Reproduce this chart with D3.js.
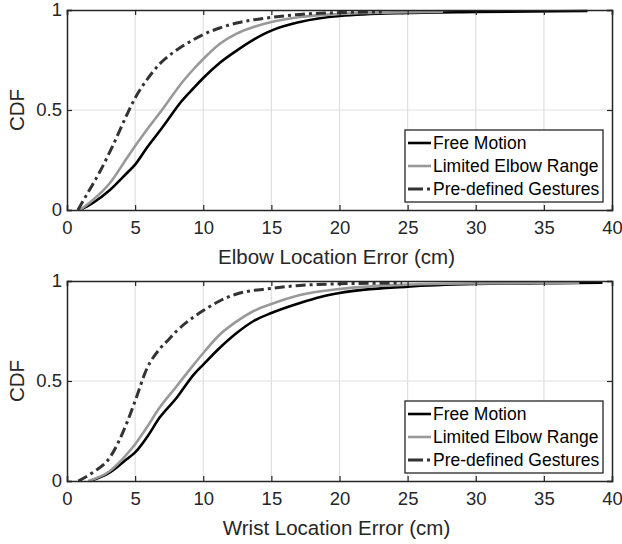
<!DOCTYPE html>
<html>
<head>
<meta charset="utf-8">
<script src="https://cdn.jsdelivr.net/npm/d3@7"></script>
<style>
  body { margin: 0; background: #fff; }
  svg { font-family: "Liberation Sans", Arial, sans-serif; }
</style>
</head>
<body>
<div id="chart"></div>
<script>
// series names + ticks
var seriesNames = ["Free Motion", "Limited Elbow Range", "Pre-defined Gestures"];
var xTicks = [0, 5, 10, 15, 20, 25, 30, 35, 40];
var yTicks = [0, 0.5, 1];
var yTickLabels = ["0", "0.5", "1"];

// elbow panel
var elbowFreeX = [0.95, 1.9, 3.15, 4.4, 5, 5.85, 6.8, 7.55, 8.3, 9.3, 10, 11.2, 12.45, 13.7, 14.4, 15, 17.1, 20, 25, 30, 38.2];
var elbowFreeY = [0, 0.035, 0.10, 0.185, 0.227, 0.31, 0.395, 0.465, 0.535, 0.61, 0.66, 0.735, 0.797, 0.852, 0.878, 0.897, 0.94, 0.97, 0.985, 0.99, 0.995];
var elbowLimX = [0.95, 1.9, 3.15, 4.4, 5, 5.85, 6.8, 7.55, 8.3, 9.3, 10, 11.2, 12.45, 13.7, 15, 17.1, 20, 24, 27.6];
var elbowLimY = [0, 0.05, 0.135, 0.26, 0.32, 0.40, 0.485, 0.555, 0.625, 0.705, 0.755, 0.83, 0.882, 0.915, 0.94, 0.965, 0.98, 0.988, 0.992];
var elbowPreX = [0.8, 1.45, 2.4, 3.4, 4.4, 5, 5.85, 6.8, 8.05, 9.3, 10, 11.2, 12.45, 15, 17.1, 20, 23.1];
var elbowPreY = [0, 0.077, 0.19, 0.327, 0.477, 0.56, 0.65, 0.73, 0.80, 0.852, 0.877, 0.91, 0.935, 0.963, 0.978, 0.987, 0.99];

// wrist panel
var wristFreeX = [1.7, 3.15, 4.4, 5, 5.85, 6.8, 8.05, 9.3, 10, 11.2, 12.45, 13.7, 15, 17.1, 18.6, 20, 25, 30, 35, 39.3];
var wristFreeY = [0, 0.043, 0.11, 0.143, 0.217, 0.317, 0.416, 0.532, 0.582, 0.665, 0.74, 0.80, 0.84, 0.89, 0.92, 0.94, 0.972, 0.985, 0.989, 0.992];
var wristLimX = [1.55, 3.15, 4.4, 5, 5.85, 6.8, 8.05, 9.3, 10, 11.2, 12.45, 13.7, 15, 17.1, 20, 25, 30, 37.6];
var wristLimY = [0, 0.05, 0.134, 0.184, 0.267, 0.367, 0.474, 0.582, 0.64, 0.731, 0.798, 0.85, 0.885, 0.93, 0.96, 0.982, 0.988, 0.991];
var wristPreX = [0.83, 1.9, 3.15, 4.4, 5, 5.85, 6.8, 7.5, 8.05, 9.3, 10, 11.2, 12.45, 15, 17.1, 20, 24.6];
var wristPreY = [0, 0.043, 0.118, 0.292, 0.40, 0.56, 0.66, 0.71, 0.75, 0.82, 0.852, 0.9, 0.935, 0.963, 0.978, 0.986, 0.99];

var styles = [
  { color: "#000000", width: 2.6, dash: null },
  { color: "#999999", width: 2.6, dash: null },
  { color: "#333333", width: 3, dash: "10,4,3,4" }
];

var svgWidth = 622;
var svgHeight = 544;

var svg = d3.select("#chart")
  .append("svg")
  .attr("width", svgWidth)
  .attr("height", svgHeight);

var panels = [
  { top: 10, label: "Elbow Location Error (cm)",
    xs: [elbowFreeX, elbowLimX, elbowPreX], ys: [elbowFreeY, elbowLimY, elbowPreY] },
  { top: 281, label: "Wrist Location Error (cm)",
    xs: [wristFreeX, wristLimX, wristPreX], ys: [wristFreeY, wristLimY, wristPreY] }
];

var left = 67, width = 545, height = 200;

panels.forEach(function(p) {
  var g = svg.append("g").attr("transform", `translate(${left}, ${p.top})`);

  var x = d3.scaleLinear().domain([0, 40]).range([0, width]);
  var y = d3.scaleLinear().domain([0, 1]).range([height, 0]);

  // grid
  g.append("g").selectAll("line").data(xTicks.slice(1, -1)).enter().append("line")
    .attr("x1", d => x(d)).attr("x2", d => x(d))
    .attr("y1", 0).attr("y2", height)
    .attr("stroke", "#dfdfdf").attr("stroke-width", 1.2);
  g.append("g").selectAll("line").data(yTicks.slice(1, -1)).enter().append("line")
    .attr("y1", d => y(d)).attr("y2", d => y(d))
    .attr("x1", 0).attr("x2", width)
    .attr("stroke", "#dfdfdf").attr("stroke-width", 1.2);

  // curves
  var line = d3.line()
    .x(d => x(d[0]))
    .y(d => y(d[1]))
    .curve(d3.curveMonotoneX);

  p.xs.forEach(function(xs, i) {
    var pts = xs.map((v, k) => [v, p.ys[i][k]]);
    g.append("path")
      .datum(pts)
      .attr("d", line)
      .attr("fill", "none")
      .attr("stroke", styles[i].color)
      .attr("stroke-width", styles[i].width)
      .attr("stroke-dasharray", styles[i].dash);
  });

  // axes (ticks inside, MATLAB box)
  var bottomAxis = d3.axisBottom(x).tickValues(xTicks).tickSize(-5).tickPadding(11);
  var leftAxis = d3.axisLeft(y).tickValues(yTicks).tickSize(-5).tickPadding(5)
    .tickFormat((d, i) => yTickLabels[i]);
  var topAxis = d3.axisTop(x).tickValues(xTicks).tickSize(-5).tickFormat("");
  var rightAxis = d3.axisRight(y).tickValues(yTicks).tickSize(-5).tickFormat("");

  var axes = [
    g.append("g").attr("transform", `translate(0, ${height})`).call(bottomAxis),
    g.append("g").call(leftAxis),
    g.append("g").call(topAxis),
    g.append("g").attr("transform", `translate(${width}, 0)`).call(rightAxis)
  ];
  axes.forEach(function(a) {
    a.select(".domain").attr("stroke", "#262626").attr("stroke-width", 1.5);
    a.selectAll(".tick line").attr("stroke", "#262626").attr("stroke-width", 1.2);
    a.selectAll("text").attr("fill", "#262626").style("font-size", "18.5px");
  });

  // x label
  g.append("text")
    .attr("x", width / 2 - 3)
    .attr("y", height + 54)
    .attr("text-anchor", "middle")
    .attr("fill", "#262626")
    .style("font-size", "20.5px")
    .text(p.label);

  // y label
  g.append("text")
    .attr("transform", "rotate(-90)")
    .attr("x", -height / 2)
    .attr("y", -43)
    .attr("text-anchor", "middle")
    .attr("fill", "#262626")
    .style("font-size", "20.5px")
    .text("CDF");

  // legend
  var lg = g.append("g").attr("transform", `translate(${405 - left}, 120)`);
  lg.append("rect")
    .attr("width", 198).attr("height", 72)
    .attr("fill", "#fff").attr("stroke", "#262626").attr("stroke-width", 1.3);
  seriesNames.forEach(function(name, i) {
    var cy = 13 + i * 23;
    lg.append("line")
      .attr("x1", 3).attr("x2", 26)
      .attr("y1", cy).attr("y2", cy)
      .attr("stroke", styles[i].color)
      .attr("stroke-width", styles[i].width)
      .attr("stroke-dasharray", styles[i].dash ? "15,4,3,4" : null);
    lg.append("text")
      .attr("x", 28).attr("y", cy + 6)
      .attr("fill", "#000")
      .style("font-size", "17.5px")
      .text(name);
  });
});
</script>
</body>
</html>
